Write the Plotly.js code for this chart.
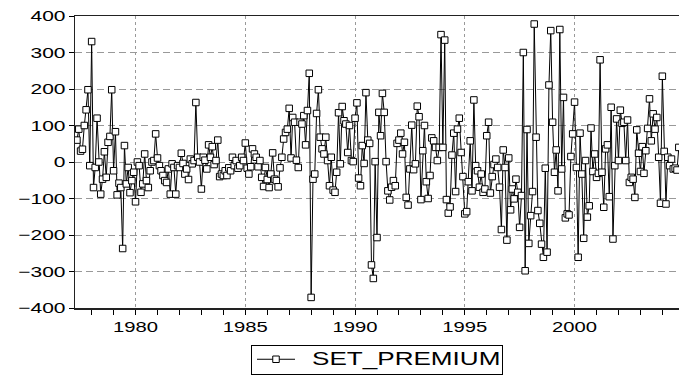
<!DOCTYPE html>
<html><head><meta charset="utf-8">
<script src="https://cdn.plot.ly/plotly-3.0.1.min.js"></script>
<style>html,body{margin:0;padding:0;background:#fff;} #chart{width:679px;height:377px;}</style>
</head><body><div id="chart"></div>
<script>
// Monthly SET_PREMIUM series, first observation 1977:05
const startYear = 1977, startMonth = 5;
const premium1977_1981 = [60,90,30,35,100,143,198,-10,330,-70,-15,120,0,-88,-47,28,-42,54,70,198,-24,83,-90,-58,-70,-237,45,-60,-15,-84,-51,-28,-109,0,-10,-83,-60,22,-51,-70,-24,0,4,77,11,-10,-24,-37,-51,-56,-19,-88,-5,-15];
const premium1981_1986 = [-88,-10,-15,24,-4,-33,-19,-48,8,-5,4,163,13,0,-74,13,5,-19,47,13,42,-7,4,60,-40,-33,-37,-24,-37,-16,-24,13,-10,4,-17,-10,13,4,52,-17,-33,-13,36,22,13,-13,4,-42,-67,-15,-48,-70,-33,25,-47];
const premium1986_1990 = [-51,-68,-16,13,63,81,90,147,11,122,109,5,-15,109,104,127,47,141,243,-371,-47,-33,133,198,68,36,22,68,4,-65,13,-77,-83,-28,135,-5,152,113,104,26,100,4,1,120,162,-44,-65,45,-4,190,60,51,-282,-319];
const premium1990_1995 = [1,-207,136,72,188,136,1,-79,-104,-69,-51,-65,51,60,79,22,54,-97,-118,-19,101,-21,-5,153,124,-103,31,100,-54,-100,-37,66,58,40,4,40,349,40,334,-103,-140,-123,19,79,-81,90,120,26,-40,-142,-136,-54,58,-79,170];
const premium1995_2000 = [-10,-24,-69,-33,-83,-74,72,109,-85,-40,-7,8,-15,-69,-185,33,-15,-214,11,-131,-74,-101,-47,-83,-179,-92,300,-298,89,-223,-147,-81,378,68,-133,-168,-225,-261,-17,-247,211,360,109,-28,33,-79,363,-19,177,-153,-142,-145,15,77,164];
const premium2000_2004 = [-15,-261,79,-33,-209,4,-151,-120,93,-26,22,-42,-31,280,-28,-124,36,47,-95,150,-211,-10,118,4,142,106,109,4,115,-56,-42,-47,-97,88,24,-26,42,-31,31,92,173,58,132,90,122,13,-113,235,29,-115,13,-10,8,-19,-17,-22,40];
const seriesName = 'SET_PREMIUM';

const values = [].concat(premium1977_1981, premium1981_1986, premium1986_1990,
                         premium1990_1995, premium1995_2000, premium2000_2004);
const dates = values.map((v, i) => {
  const m = startMonth - 1 + i;
  const y = startYear + Math.floor(m / 12);
  const mm = (m % 12) + 1;
  return y + '-' + String(mm).padStart(2, '0') + '-01';
});

const font = {family: 'Arial, "Liberation Sans", sans-serif', size: 15, color: '#000'};

const trace = {
  x: dates, y: values, type: 'scatter', mode: 'lines+markers', name: seriesName,
  line: {color: '#000', width: 1},
  marker: {symbol: 'square', size: 6.5, color: '#fff', line: {color: '#000', width: 1}},
  showlegend: true
};

const layout = {
  width: 679, height: 377,
  margin: {l: 75, r: 0, t: 16, b: 69},
  paper_bgcolor: '#fff', plot_bgcolor: '#fff',
  font: font,
  xaxis: {
    type: 'date', range: ['1977-03-30', '2004-10-04'],
    tickmode: 'linear', tick0: '1980-01-01', dtick: 'M60', tickformat: '%Y',
    ticks: 'outside', ticklen: 5, tickcolor: '#000',
    showgrid: true, gridcolor: '#999', griddash: '3px,3px', gridwidth: 1,
    minor: {dtick: 'M12', tick0: '1980-01-01', ticks: 'outside', ticklen: 5, tickcolor: '#000', showgrid: false},
    showline: true, linecolor: '#222', linewidth: 1.5, mirror: true,
    zeroline: false, tickfont: font
  },
  yaxis: {
    range: [-400, 400], tickmode: 'linear', tick0: 0, dtick: 100,
    ticks: 'outside', ticklen: 5, tickcolor: '#000',
    showgrid: true, gridcolor: '#999', griddash: '7px,4px', gridwidth: 1,
    showline: true, linecolor: '#222', linewidth: 1.5, mirror: false,
    zeroline: false, tickfont: font
  },
  showlegend: true,
  legend: {
    orientation: 'h', x: 0.5, xanchor: 'center', y: -0.118, yanchor: 'top',
    bordercolor: '#000', borderwidth: 1, bgcolor: '#fff',
    itemwidth: 38, entrywidth: 197, entrywidthmode: 'pixels',
    font: {family: 'Arial, "Liberation Sans", sans-serif', size: 15, color: '#000'}
  }
};

const gd = document.getElementById('chart');

// the reference's lettering is horizontally stretched; widen the real text glyphs
function stretch(sel, sx, sy, dx) {
  gd.querySelectorAll(sel).forEach(t => {
    const cur = t.getAttribute('transform') || '';
    if (t.__applied !== undefined && cur === t.__applied) return;
    const ax = parseFloat(t.getAttribute('x')) || 0;
    const ay = parseFloat(t.getAttribute('y')) || 0;
    const next = cur + ' translate(' + (ax + dx) + ',' + ay + ') scale(' + sx + ',' + sy + ') translate(' + (-ax) + ',' + (-ay) + ')';
    t.setAttribute('transform', next);
    t.__applied = next;
  });
}

function finish() {
  stretch('.xtick text', 1.35, 1, 0);
  stretch('.ytick text', 1.4, 1, 0);
  stretch('.legendtext', 1.74, 1.2, 12);
  // slimmer legend frame, as in the reference
  const bg = gd.querySelector('.legend rect.bg');
  if (bg) {
    const h = parseFloat(bg.getAttribute('height'));
    const nh = 29;
    if (h > nh + 0.5) {
      const y0 = parseFloat(bg.getAttribute('y')) || 0;
      bg.setAttribute('y', y0 + (h - nh) / 2);
      bg.setAttribute('height', nh);
    }
  }
}

Plotly.newPlot(gd, [trace], layout, {staticPlot: true, displayModeBar: false}).then(() => {
  finish();
  gd.on('plotly_afterplot', finish);
  setTimeout(finish, 30);
  setTimeout(finish, 200);
  requestAnimationFrame(finish);
});
</script>
</body></html>
